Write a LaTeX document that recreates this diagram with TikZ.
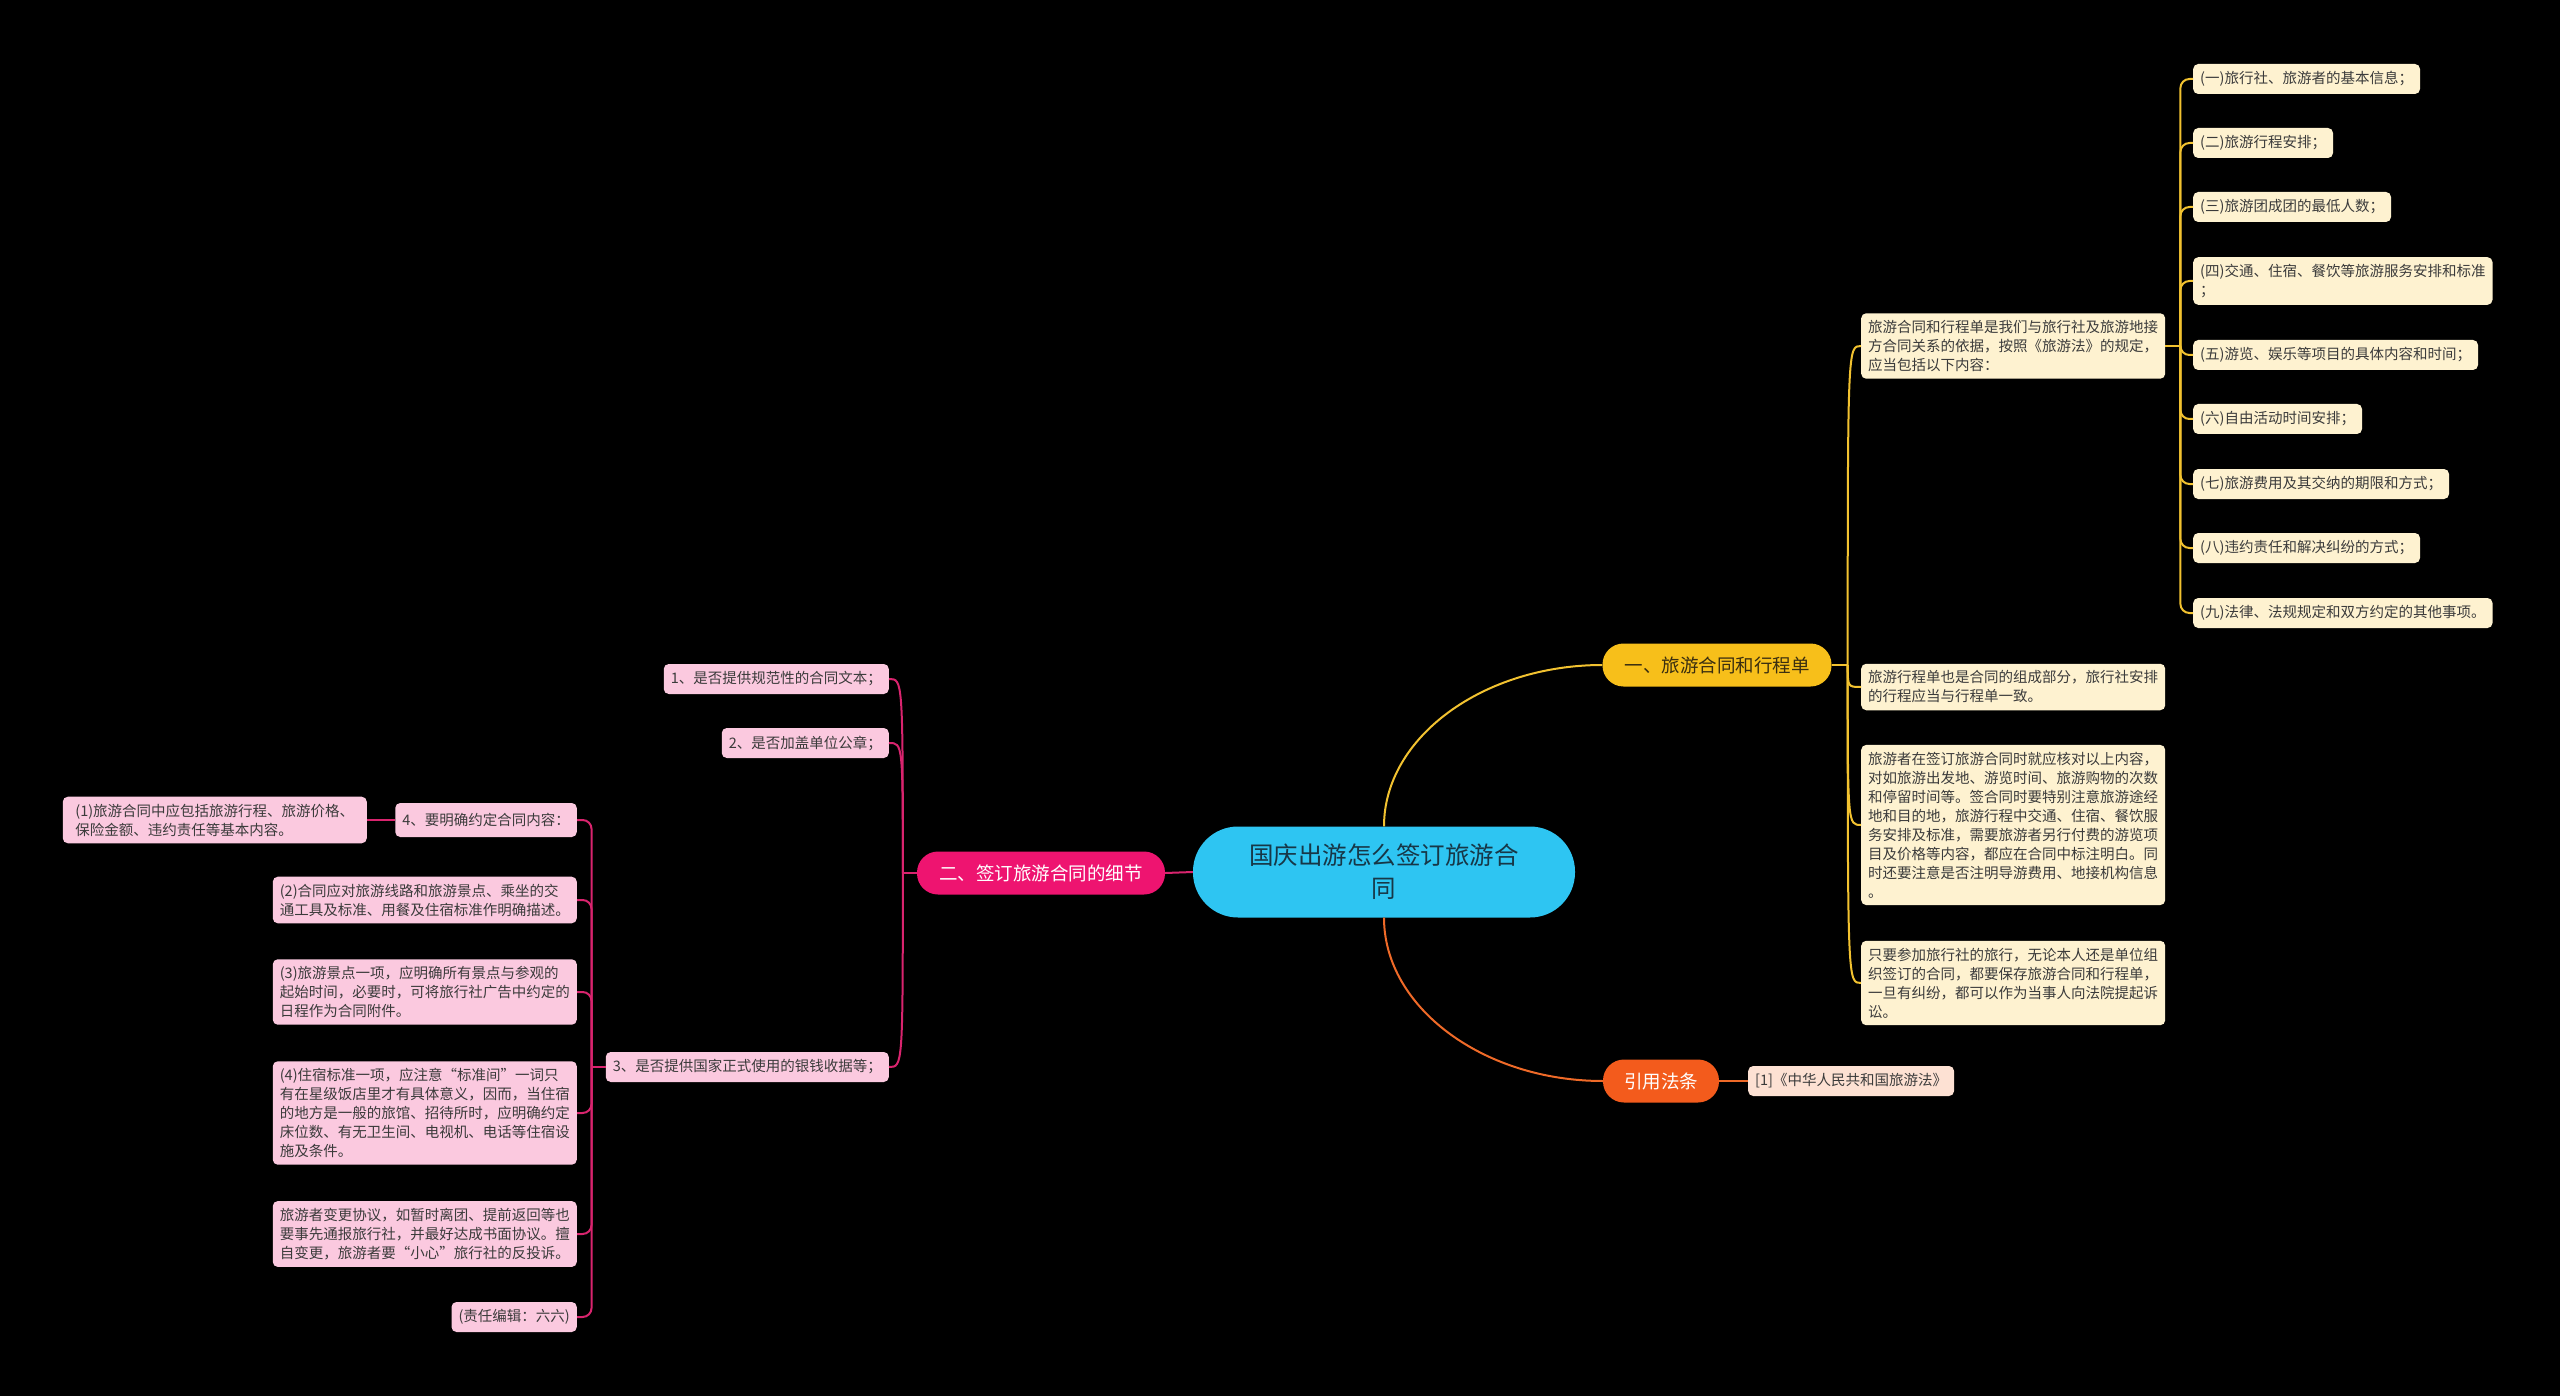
\documentclass[tikz,border=0pt]{standalone}
\usepackage{fontspec}
\setmainfont{Noto Sans CJK SC}
\usetikzlibrary{calc}

\definecolor{rootblue}{HTML}{2EC5F2}
\definecolor{roottxt}{HTML}{173747}
\definecolor{ylw}{HTML}{F7BF1A}
\definecolor{ytxt}{HTML}{3A2E10}
\definecolor{ora}{HTML}{F35B1C}
\definecolor{pnk}{HTML}{EE1470}
\definecolor{ycream}{HTML}{FEF2D0}
\definecolor{peach}{HTML}{FDE1D3}
\definecolor{pinkleaf}{HTML}{FBC9DF}
\definecolor{leaftxt}{HTML}{3B3B3B}
\definecolor{ylinkc}{HTML}{F2C230}
\definecolor{olinkc}{HTML}{EF6A28}
\definecolor{plinkc}{HTML}{D9246E}

\begin{document}
\begin{tikzpicture}[x=1pt,y=1pt,
    leaf/.style={rounded corners=5pt, inner xsep=7pt, inner ysep=7pt,
        minimum height=30pt, align=left, text=leaftxt,
        font=\fontsize{14.5}{19}\selectfont},
    wide/.style={minimum width=304pt},
    branch/.style={rounded corners=21pt, minimum height=43pt,
        font=\fontsize{18.5}{22}\selectfont},
    ylink/.style={draw=ylinkc, line width=2pt},
    olink/.style={draw=olinkc, line width=2pt},
    plink/.style={draw=plinkc, line width=2pt}]

    \fill[black] (0,0) rectangle (2560,-1396);
    \useasboundingbox (0,0) rectangle (2560,-1396);

    % centre and main branches
    \node[fill=rootblue, text=roottxt, rounded corners=45pt, minimum width=382pt,
        minimum height=91pt, align=center, font=\fontsize{24.5}{33}\selectfont]
        (root) at (1384,-872) {国庆出游怎么签订旅游合\\同};
    \node[branch, fill=ylw, text=ytxt, minimum width=229pt] (yel) at (1717,-665) {一、旅游合同和行程单};
    \node[branch, fill=ora, text=white, minimum width=116pt] (ora) at (1661,-1081) {引用法条};
    \node[branch, fill=pnk, text=white, minimum width=248pt] (pnk) at (1041,-873) {二、签订旅游合同的细节};
    \node[leaf, fill=peach, anchor=west] (law) at (1748,-1081) {[1]《中华人民共和国旅游法》};

    % right side
    \node[leaf, wide, fill=ycream, anchor=west] (y1) at (1861,-346)
        {旅游合同和行程单是我们与旅行社及旅游地接\\方合同关系的依据，按照《旅游法》的规定，\\应当包括以下内容：};
    \node[leaf, wide, fill=ycream, anchor=west] (y2) at (1861,-687)
        {旅游行程单也是合同的组成部分，旅行社安排\\的行程应当与行程单一致。};
    \node[leaf, wide, fill=ycream, anchor=west] (y3) at (1861,-825)
        {旅游者在签订旅游合同时就应核对以上内容，\\对如旅游出发地、游览时间、旅游购物的次数\\和停留时间等。签合同时要特别注意旅游途经\\地和目的地，旅游行程中交通、住宿、餐饮服\\务安排及标准，需要旅游者另行付费的游览项\\目及价格等内容，都应在合同中标注明白。同\\时还要注意是否注明导游费用、地接机构信息\\。};
    \node[leaf, wide, fill=ycream, anchor=west] (y4) at (1861,-983)
        {只要参加旅行社的旅行，无论本人还是单位组\\织签订的合同，都要保存旅游合同和行程单，\\一旦有纠纷，都可以作为当事人向法院提起诉\\讼。};

    \foreach \n/\y/\t in {1/79/{(一)旅行社、旅游者的基本信息；},
                          2/143/{(二)旅游行程安排；},
                          3/207/{(三)旅游团成团的最低人数；},
                          4/281/{(四)交通、住宿、餐饮等旅游服务安排和标准\\；},
                          5/355/{(五)游览、娱乐等项目的具体内容和时间；},
                          6/419/{(六)自由活动时间安排；},
                          7/484/{(七)旅游费用及其交纳的期限和方式；},
                          8/548/{(八)违约责任和解决纠纷的方式；},
                          9/613/{(九)法律、法规规定和双方约定的其他事项。}}
        \node[leaf, fill=ycream, anchor=west] (i\n) at (2193,-\y) {\t};

    % left side
    \node[leaf, fill=pinkleaf, anchor=east] (p1) at (889,-679) {1、是否提供规范性的合同文本；};
    \node[leaf, fill=pinkleaf, anchor=east] (p2) at (889,-743) {2、是否加盖单位公章；};
    \node[leaf, fill=pinkleaf, anchor=east] (p3) at (889,-1067) {3、是否提供国家正式使用的银钱收据等；};

    \node[leaf, fill=pinkleaf, anchor=east, minimum height=34pt] (q1) at (577,-820) {4、要明确约定合同内容：};
    \node[leaf, wide, fill=pinkleaf, anchor=east] (r1) at (367,-820)
        {(1)旅游合同中应包括旅游行程、旅游价格、\\保险金额、违约责任等基本内容。};
    \node[leaf, wide, fill=pinkleaf, anchor=east] (q2) at (577,-900)
        {(2)合同应对旅游线路和旅游景点、乘坐的交\\通工具及标准、用餐及住宿标准作明确描述。};
    \node[leaf, wide, fill=pinkleaf, anchor=east] (q3) at (577,-992)
        {(3)旅游景点一项，应明确所有景点与参观的\\起始时间，必要时，可将旅行社广告中约定的\\日程作为合同附件。};
    \node[leaf, wide, fill=pinkleaf, anchor=east] (q4) at (577,-1113)
        {(4)住宿标准一项，应注意“标准间”一词只\\有在星级饭店里才有具体意义，因而，当住宿\\的地方是一般的旅馆、招待所时，应明确约定\\床位数、有无卫生间、电视机、电话等住宿设\\施及条件。};
    \node[leaf, wide, fill=pinkleaf, anchor=east] (q5) at (577,-1234)
        {旅游者变更协议，如暂时离团、提前返回等也\\要事先通报旅行社，并最好达成书面协议。擅\\自变更，旅游者要“小心”旅行社的反投诉。};
    \node[leaf, fill=pinkleaf, anchor=east] (q6) at (577,-1317) {(责任编辑：六六)};

    % connectors
    \draw[ylink] (root.north) .. controls +(0,89) and +(-119,0) .. (yel.west);
    \draw[olink] (root.south) .. controls +(0,-90) and +(-119,0) .. (ora.west);
    \draw[plink] (root.west) -- (pnk.east);
    \draw[olink] (ora.east) -- (law.west);

    \coordinate (yt) at ($(yel.east)+(16,0)$);
    \draw[ylink] (yel.east) -- (yt);
    \foreach \b in {y1,y2,y3,y4}
        \draw[ylink] (yt) .. controls (yt |- \b.west) .. (\b.west);

    \coordinate (it) at ($(y1.east)+(15,0)$);
    \draw[ylink] (y1.east) -- (it);
    \foreach \n in {1,...,9}
        \draw[ylink, rounded corners=9pt] (it) |- (i\n.west);

    \coordinate (pt) at ($(pnk.west)+(-14,0)$);
    \draw[plink] (pnk.west) -- (pt);
    \foreach \b in {p1,p2,p3}
        \draw[plink] (pt) .. controls (pt |- \b.east) .. (\b.east);

    \coordinate (qt) at ($(p3.west)+(-14,0)$);
    \draw[plink] (p3.west) -- (qt);
    \foreach \b in {q1,q2,q3,q4,q5,q6}
        \draw[plink, rounded corners=9pt] (qt) |- (\b.east);
    \draw[plink] (q1.west) -- (r1.east);
\end{tikzpicture}
\end{document}
